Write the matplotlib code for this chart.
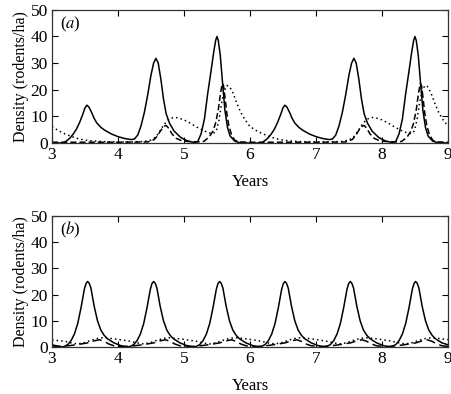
import matplotlib
matplotlib.use("Agg")
import matplotlib.pyplot as plt

plt.rcParams['font.family'] = ['Liberation Serif', 'DejaVu Serif']
plt.rcParams['mathtext.fontset'] = 'stix'

# ---- panel (a): values ----
a_solid_x = [3.0, 3.17, 3.22, 3.27, 3.32, 3.37, 3.42, 3.47, 3.5, 3.53, 3.56, 3.6, 3.64, 3.68, 3.74,
             3.8, 3.9, 4.0, 4.1, 4.2, 4.25, 4.3, 4.35, 4.4, 4.45, 4.5, 4.54, 4.575, 4.61, 4.65,
             4.69, 4.73, 4.78, 4.85, 4.95, 5.05, 5.15, 5.21, 5.26, 5.31, 5.36, 5.41, 5.45, 5.48,
             5.5, 5.52, 5.55, 5.58, 5.62, 5.66, 5.7, 5.77, 5.85, 6.0,
             6.17, 6.22, 6.27, 6.32, 6.37, 6.42, 6.47, 6.5, 6.53, 6.56, 6.6, 6.64, 6.68, 6.74,
             6.8, 6.9, 7.0, 7.1, 7.2, 7.25, 7.3, 7.35, 7.4, 7.45, 7.5, 7.54, 7.575, 7.61, 7.65,
             7.69, 7.73, 7.78, 7.85, 7.95, 8.05, 8.15, 8.21, 8.26, 8.31, 8.36, 8.41, 8.45, 8.48,
             8.5, 8.52, 8.55, 8.58, 8.62, 8.66, 8.7, 8.77, 8.85, 9.0]
a_solid_y = [0.0, 0.0, 0.8, 1.8, 3.3, 5.2, 7.8, 11.0, 13.2, 14.2, 13.5, 11.5, 9.2, 7.5, 5.9,
             4.8, 3.4, 2.4, 1.7, 1.3, 1.5, 3.0, 6.5, 11.5, 18.0, 25.5, 30.0, 31.8, 30.0, 24.0,
             16.5, 11.0, 7.5, 4.5, 2.1, 0.8, 0.2, 0.6, 3.5, 9.0, 18.6, 27.0, 34.0, 38.5,
             40.0, 38.5, 33.0, 24.0, 12.4, 5.8, 2.6, 0.7, 0.1, 0.0,
             0.0, 0.8, 1.8, 3.3, 5.2, 7.8, 11.0, 13.2, 14.2, 13.5, 11.5, 9.2, 7.5, 5.9,
             4.8, 3.4, 2.4, 1.7, 1.3, 1.5, 3.0, 6.5, 11.5, 18.0, 25.5, 30.0, 31.8, 30.0, 24.0,
             16.5, 11.0, 7.5, 4.5, 2.1, 0.8, 0.2, 0.6, 3.5, 9.0, 18.6, 27.0, 34.0, 38.5,
             40.0, 38.5, 33.0, 24.0, 12.4, 5.8, 2.6, 0.7, 0.1, 0.0]

a_dash_x = [3.0, 3.5, 4.0, 4.45, 4.55, 4.6, 4.65, 4.7, 4.73, 4.77, 4.82, 4.88, 4.95, 5.05, 5.2,
            5.3, 5.38, 5.44, 5.48, 5.52, 5.55, 5.58, 5.6, 5.62, 5.65, 5.68, 5.72, 5.77, 5.85,
            6.0, 6.5, 7.0, 7.45, 7.55, 7.6, 7.65, 7.7, 7.73, 7.77, 7.82, 7.88, 7.95, 8.05, 8.2,
            8.3, 8.38, 8.44, 8.48, 8.52, 8.55, 8.58, 8.6, 8.62, 8.65, 8.68, 8.72, 8.77, 8.85, 9.0]
a_dash_y = [0.3, 0.3, 0.3, 0.4, 1.3, 2.8, 4.8, 6.3, 6.6, 5.5, 3.4, 1.8, 1.0, 0.6, 0.4,
            0.6, 2.2, 4.5, 7.5, 12.5, 18.0, 22.4, 21.5, 17.5, 11.0, 6.5, 3.2, 1.0, 0.4,
            0.3, 0.3, 0.3, 0.4, 1.3, 2.8, 4.8, 6.3, 6.6, 5.5, 3.4, 1.8, 1.0, 0.6, 0.4,
            0.6, 2.2, 4.5, 7.5, 12.5, 18.0, 22.4, 21.5, 17.5, 11.0, 6.5, 3.2, 1.0, 0.4, 0.3]

a_dot_x = [3.0, 3.1, 3.2, 3.3, 3.4, 3.5, 3.6, 3.8, 4.0, 4.2, 4.4, 4.5, 4.57, 4.63, 4.7, 4.77,
           4.84, 4.9, 5.0, 5.1, 5.2, 5.3, 5.38, 5.44, 5.49, 5.53, 5.57, 5.61, 5.65, 5.69, 5.74,
           5.8, 5.86, 5.93,
           6.0, 6.1, 6.2, 6.3, 6.4, 6.5, 6.6, 6.8, 7.0, 7.2, 7.4, 7.5, 7.57, 7.63, 7.7, 7.77,
           7.84, 7.9, 8.0, 8.1, 8.2, 8.3, 8.38, 8.44, 8.49, 8.53, 8.57, 8.61, 8.65, 8.69, 8.74,
           8.8, 8.86, 8.93, 9.0]
a_dot_y = [6.2, 4.6, 3.4, 2.4, 1.6, 1.1, 0.8, 0.5, 0.4, 0.4, 0.6, 1.1, 2.2, 4.2, 7.0, 8.9,
           9.6, 9.5, 8.7, 7.4, 5.9, 4.6, 3.8, 3.5, 4.5, 8.5, 15.0, 19.5, 21.6, 21.2, 19.0,
           15.0, 11.5, 8.6,
           6.2, 4.6, 3.4, 2.4, 1.6, 1.1, 0.8, 0.5, 0.4, 0.4, 0.6, 1.1, 2.2, 4.2, 7.0, 8.9,
           9.6, 9.5, 8.7, 7.4, 5.9, 4.6, 3.8, 3.5, 4.5, 8.5, 15.0, 19.5, 21.6, 21.2, 19.0,
           15.0, 11.5, 8.6, 6.4]

# ---- panel (b) ----
b_solid_x = [3.0,
             3.14, 3.19, 3.24, 3.29, 3.34, 3.39, 3.44, 3.49, 3.515, 3.54, 3.565, 3.59, 3.64, 3.69, 3.74, 3.79, 3.84, 3.94, 4.04,
             4.14, 4.19, 4.24, 4.29, 4.34, 4.39, 4.44, 4.49, 4.515, 4.54, 4.565, 4.59, 4.64, 4.69, 4.74, 4.79, 4.84, 4.94, 5.04,
             5.14, 5.19, 5.24, 5.29, 5.34, 5.39, 5.44, 5.49, 5.515, 5.54, 5.565, 5.59, 5.64, 5.69, 5.74, 5.79, 5.84, 5.94, 6.04,
             6.13, 6.18, 6.23, 6.28, 6.33, 6.38, 6.43, 6.48, 6.505, 6.53, 6.555, 6.58, 6.63, 6.68, 6.73, 6.78, 6.83, 6.93, 7.03,
             7.12, 7.17, 7.22, 7.27, 7.32, 7.37, 7.42, 7.47, 7.495, 7.52, 7.545, 7.57, 7.62, 7.67, 7.72, 7.77, 7.82, 7.92, 8.02,
             8.11, 8.16, 8.21, 8.26, 8.31, 8.36, 8.41, 8.46, 8.485, 8.51, 8.535, 8.56, 8.61, 8.66, 8.71, 8.76, 8.81, 8.91, 9.0]
b_solid_y = [0.9,
             0.0, 0.3, 1.0, 2.5, 5.0, 9.0, 15.0, 22.0, 24.2, 25.0, 24.3, 22.5, 15.5, 10.0, 6.5, 4.5, 3.2, 1.6, 0.6,
             0.0, 0.3, 1.0, 2.5, 5.0, 9.0, 15.0, 22.0, 24.2, 25.0, 24.3, 22.5, 15.5, 10.0, 6.5, 4.5, 3.2, 1.6, 0.6,
             0.0, 0.3, 1.0, 2.5, 5.0, 9.0, 15.0, 22.0, 24.2, 25.0, 24.3, 22.5, 15.5, 10.0, 6.5, 4.5, 3.2, 1.6, 0.6,
             0.0, 0.3, 1.0, 2.5, 5.0, 9.0, 15.0, 22.0, 24.2, 25.0, 24.3, 22.5, 15.5, 10.0, 6.5, 4.5, 3.2, 1.6, 0.6,
             0.0, 0.3, 1.0, 2.5, 5.0, 9.0, 15.0, 22.0, 24.2, 25.0, 24.3, 22.5, 15.5, 10.0, 6.5, 4.5, 3.2, 1.6, 0.6,
             0.0, 0.3, 1.0, 2.5, 5.0, 9.0, 15.0, 22.0, 24.2, 25.0, 24.3, 22.5, 15.5, 10.0, 6.5, 4.5, 3.2, 1.6, 0.9]

b_dash_x = [3.0,
            3.14, 3.24, 3.34, 3.44, 3.54, 3.64, 3.72, 3.79, 3.86, 3.94, 4.04,
            4.14, 4.24, 4.34, 4.44, 4.54, 4.64, 4.72, 4.79, 4.86, 4.94, 5.04,
            5.14, 5.24, 5.34, 5.44, 5.54, 5.64, 5.72, 5.79, 5.86, 5.94, 6.04,
            6.13, 6.23, 6.33, 6.43, 6.53, 6.63, 6.71, 6.78, 6.85, 6.93, 7.03,
            7.12, 7.22, 7.32, 7.42, 7.52, 7.62, 7.70, 7.77, 7.84, 7.92, 8.02,
            8.11, 8.21, 8.31, 8.41, 8.51, 8.61, 8.69, 8.76, 8.83, 8.91, 9.0]
b_dash_y = [0.4,
            0.3, 0.5, 0.8, 1.2, 1.6, 2.4, 2.8, 2.2, 1.2, 0.5, 0.3,
            0.3, 0.5, 0.8, 1.2, 1.6, 2.4, 2.8, 2.2, 1.2, 0.5, 0.3,
            0.3, 0.5, 0.8, 1.2, 1.6, 2.4, 2.8, 2.2, 1.2, 0.5, 0.3,
            0.3, 0.5, 0.8, 1.2, 1.6, 2.4, 2.8, 2.2, 1.2, 0.5, 0.3,
            0.3, 0.5, 0.8, 1.2, 1.6, 2.4, 2.8, 2.2, 1.2, 0.5, 0.3,
            0.3, 0.5, 0.8, 1.2, 1.6, 2.4, 2.8, 2.2, 1.2, 0.5, 0.3]

b_dot_x = [3.0, 3.2,
           3.29, 3.39, 3.49, 3.59, 3.69, 3.77, 3.89, 4.04, 4.19,
           4.29, 4.39, 4.49, 4.59, 4.69, 4.77, 4.89, 5.04, 5.19,
           5.29, 5.39, 5.49, 5.59, 5.69, 5.77, 5.89, 6.04, 6.18,
           6.28, 6.38, 6.48, 6.58, 6.68, 6.76, 6.88, 7.03, 7.17,
           7.27, 7.37, 7.47, 7.57, 7.67, 7.75, 7.87, 8.02, 8.16,
           8.26, 8.36, 8.46, 8.56, 8.66, 8.74, 8.86, 9.0]
b_dot_y = [2.7, 2.2,
           1.6, 1.2, 1.7, 2.6, 3.3, 3.6, 3.3, 2.8, 2.2,
           1.6, 1.2, 1.7, 2.6, 3.3, 3.6, 3.3, 2.8, 2.2,
           1.6, 1.2, 1.7, 2.6, 3.3, 3.6, 3.3, 2.8, 2.2,
           1.6, 1.2, 1.7, 2.6, 3.3, 3.6, 3.3, 2.8, 2.2,
           1.6, 1.2, 1.7, 2.6, 3.3, 3.6, 3.3, 2.8, 2.2,
           1.6, 1.2, 1.7, 2.6, 3.3, 3.6, 3.3, 2.85]

x_ticks = [3, 4, 5, 6, 7, 8, 9]
y_ticks = [0, 10, 20, 30, 40, 50]
panel_labels = ['a', 'b']

fig = plt.figure(figsize=(4.52, 3.94), dpi=100)
ax1 = fig.add_axes([0.115, 0.637, 0.876, 0.338])
ax2 = fig.add_axes([0.115, 0.119, 0.876, 0.333])

solid_style = dict(color='black', lw=1.1, ls='-')
dash_style = dict(color='black', lw=1.1, ls=(0, (4, 2)))
dot_style = dict(color='black', lw=1.1, ls=(0, (1.0, 2.0)))

ax1.plot(a_dot_x, a_dot_y, **dot_style)
ax1.plot(a_dash_x, a_dash_y, **dash_style)
ax1.plot(a_solid_x, a_solid_y, **solid_style)

ax2.plot(b_dot_x, b_dot_y, **dot_style)
ax2.plot(b_dash_x, b_dash_y, color='black', lw=1.1, ls=(0, (6, 3)))
ax2.plot(b_solid_x, b_solid_y, **solid_style)

for ax, lab in zip([ax1, ax2], panel_labels):
    ax.set_xlim(3, 9)
    ax.set_ylim(0, 50)
    ax.set_xticks(x_ticks)
    ax.set_yticks(y_ticks)
    ax.tick_params(direction='in', top=True, right=True, length=4, width=0.8,
                   labelsize=12.5, pad=3)
    for sp in ax.spines.values():
        sp.set_linewidth(0.9)
        sp.set_color('#333333')
    ax.set_xlabel('Years', fontsize=12, labelpad=8)
    ax.set_ylabel('Density (rodents/ha)', fontsize=11.5, labelpad=1)
    ax.text(0.02, 0.89, '(' + r'$\mathit{' + lab + '}$' + ')', transform=ax.transAxes,
            fontsize=12, va='center', ha='left')

fig.savefig('out.png', dpi=100)
